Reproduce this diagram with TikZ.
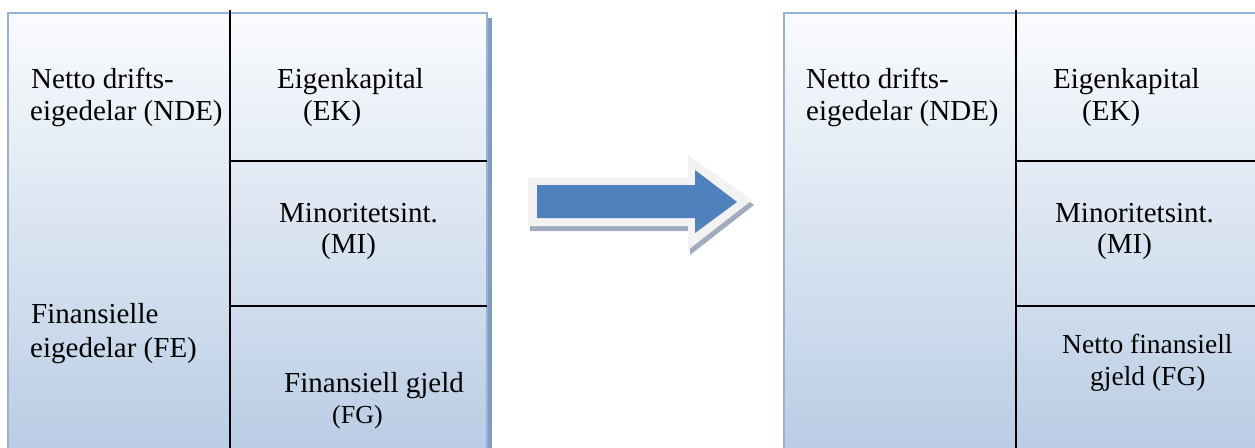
\documentclass[tikz,border=0pt]{standalone}
\usepackage{fontspec}
\setmainfont{Liberation Serif}[Ligatures=TeX]
\begin{document}
\definecolor{boxtop}{RGB}{250,251,253}
\definecolor{boxbot}{RGB}{184,204,228}
\definecolor{boxedge}{RGB}{149,179,215}
\definecolor{boxshadow}{RGB}{128,157,197}
\definecolor{arrowblue}{RGB}{79,129,189}
\definecolor{arrowrim}{RGB}{242,242,242}
\definecolor{arrowshade}{RGB}{160,172,190}
\begin{tikzpicture}[x=1pt,y=-1pt,
  panel/.style={draw=boxedge,line width=2.5pt,top color=boxtop,bottom color=boxbot},
  divider/.style={draw=black,line width=1.8pt},
  lbl/.style={anchor=base west,inner sep=0pt,font=\rmfamily\fontsize{29}{32}\selectfont},
  lblsmall/.style={lbl,font=\rmfamily\fontsize{26}{30}\selectfont},
  lblmid/.style={lbl,font=\rmfamily\fontsize{27.5}{31}\selectfont}]
\useasboundingbox (0,0) rectangle (1255,447);
\begin{scope}
\clip (0,0) rectangle (1255,447);
% left balance sheet
\fill[boxshadow] (487,18) rectangle (492,460);
\path[panel] (8,13) rectangle (487,460);
\draw[divider] (230,10) -- (230,460);
\draw[divider] (230,161) -- (487,161);
\draw[divider] (230,306) -- (487,306);
% right balance sheet
\path[panel] (784,13) rectangle (1275,460);
\draw[divider] (1016,10) -- (1016,460);
\draw[divider] (1016,161) -- (1275,161);
\draw[divider] (1016,306) -- (1275,306);
\end{scope}
% block arrow between the two sheets
\fill[arrowshade] (530,231) -- (530,183) -- (690,183) -- (690,160) -- (754,205) -- (690,255) -- (690,231) -- cycle;
\fill[arrowrim] (528,226) -- (528,178) -- (688,178) -- (688,155) -- (752,200) -- (688,250) -- (688,226) -- cycle;
\fill[arrowblue] (537,218) -- (537,185) -- (695,185) -- (695,170) -- (737,202) -- (695,233) -- (695,218) -- cycle;
% left texts
\node[lbl] (lnde1) at (31,88) {Netto drifts-};
\node[lbl] (lnde2) at (30,120) {eigedelar (NDE)};
\node[lbl] (lek1) at (277,88) {Eigenkapital};
\node[lbl] (lek2) at (303,120) {(EK)};
\node[lbl] (lmi1) at (279,222) {Minoritetsint.};
\node[lbl] (lmi2) at (321,253) {(MI)};
\node[lbl] (lfe1) at (31,323) {Finansielle};
\node[lbl] (lfe2) at (30,357) {eigedelar (FE)};
\node[lbl] (lfg1) at (284,392) {Finansiell gjeld};
\node[lblsmall] (lfg2) at (332,423) {(FG)};
% right texts
\node[lbl] (rnde1) at (806,88) {Netto drifts-};
\node[lbl] (rnde2) at (806,120) {eigedelar (NDE)};
\node[lbl] (rek1) at (1053,88) {Eigenkapital};
\node[lbl] (rek2) at (1082,120) {(EK)};
\node[lbl] (rmi1) at (1055,222) {Minoritetsint.};
\node[lbl] (rmi2) at (1097,253) {(MI)};
\node[lblmid] (rfg1) at (1062,353) {Netto finansiell};
\node[lblmid] (rfg2) at (1090,385) {gjeld (FG)};
\end{tikzpicture}
\end{document}
